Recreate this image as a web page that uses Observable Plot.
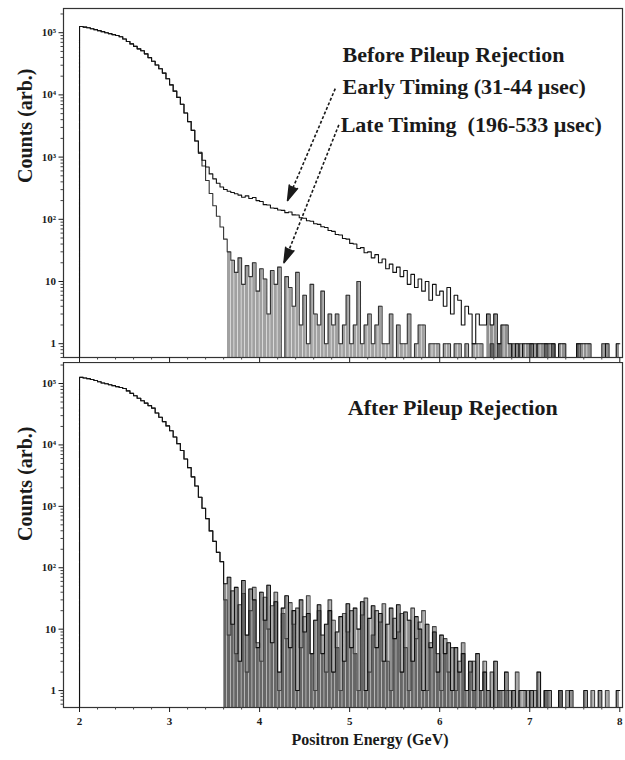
<!DOCTYPE html>
<html>
<head>
<meta charset="utf-8">
<script src="https://cdn.jsdelivr.net/npm/d3@7"></script>
<script src="https://cdn.jsdelivr.net/npm/@observablehq/plot@0.6"></script>
<style>
  body { margin: 0; background: #fff; }
  svg { display: block; }
</style>
</head>
<body>
<div id="chart"></div>
<script>
// ---- data (counts per 0.04 GeV bin, starting at 2.00 GeV) ----
const binStart = 2.0;
const binWidth = 0.04;

const topEarly = [
  126000,123000,120000,116000,112000,108000,104000,100000,96600,93300,
  90200,86100,79400,72400,66100,60300,55000,51300,45700,39800,
  34700,30200,26300,22400,18200,14500,11500,9120,7080,5130,
  3720,2690,1820,1200,891,692,537,447,380,331,
  302,282,269,257,245,226,238,216,224,200,
  193,172,170,152,150,141,139,128,131,118,
  117,106,104,95,93,85,83,76,74,66,
  64,57,56,49,48,41,40,34,35,29,
  30,24,27,20,23,16,19,14,17,12,
  15,9,13,8,11,7,10,5,9,6,
  7,4,8,3,6,5,2,4,3,1,
  3,2,2,3,2,3,1,2,2,1,
  0,1,0,1,1,1,0,1,1,1,
  1,1,0,1,1,0,0,0,1,1,
  1,1,0,0,0,0,1,0,0,1
];

const topLate = [
  126000,123000,120000,116000,112000,108000,104000,100000,96600,93300,
  90200,86100,79400,72400,66100,60300,55000,51300,45700,39800,
  34700,30200,26300,22400,18200,14500,11500,9120,7080,5130,
  3720,2690,1820,1150,720,420,260,165,112,75,
  48,30,22,14,24,9,18,12,20,7,
  16,11,3,15,9,17,0,12,8,4,
  14,2,6,1,9,3,2,7,1,3,
  2,3,1,2,6,1,2,10,1,2,
  3,1,2,4,1,1,3,0,2,1,
  1,3,0,1,2,2,0,1,1,1,
  0,1,1,0,1,1,0,1,0,1,
  1,1,0,0,1,0,1,0,0,0,
  1,0,1,0,0,1,1,0,0,1,
  0,1,0,0,0,0,0,0,1,0,
  0,0,0,0,0,1,0,0,0,0
];

const bottomEarly = [
  126000,123000,120000,116000,112000,107000,102000,98900,95500,92300,
  89100,86100,83200,75900,69200,63100,57500,52500,47900,43700,
  39800,33100,28200,24000,20400,17000,13500,10500,8130,5890,
  4270,3020,2140,1410,933,631,398,269,178,126,
  55,70,12,48,3,62,8,45,30,5,
  40,14,52,6,28,2,22,35,5,20,
  1,30,9,18,4,14,25,4,12,20,
  2,9,16,3,26,5,22,10,28,1,
  15,24,5,18,3,12,22,7,25,2,
  19,14,3,16,10,1,12,5,9,2,
  8,4,6,1,5,2,4,1,3,1,
  4,1,2,1,0,3,1,1,2,0,
  1,0,1,1,0,1,0,2,0,1,
  1,0,0,1,0,0,1,0,0,0,
  1,0,0,0,1,0,0,0,0,1
];

const bottomLate = [
  126000,123000,120000,116000,112000,107000,102000,98900,95500,92300,
  89100,86100,83200,75900,69200,63100,57500,52500,47900,43700,
  39800,33100,28200,24000,20400,17000,13500,10500,8130,5890,
  4270,3020,2140,1410,933,631,398,269,178,126,
  30,8,42,4,25,38,2,20,48,6,
  3,33,10,24,40,1,18,7,27,12,
  22,5,16,35,4,1,20,8,2,30,
  14,5,1,18,9,20,4,1,17,32,
  2,8,20,13,26,3,1,15,9,18,
  5,1,22,7,13,20,1,6,11,4,
  1,7,2,5,1,3,6,0,2,3,
  0,1,3,0,2,0,1,0,1,1,
  0,2,0,0,1,0,1,0,0,1,
  0,0,0,1,0,1,0,0,0,0,
  0,0,1,0,0,0,1,0,0,0
];

// energy (GeV) above which each spectrum breaks up into low-count noise
const noiseStart = {topEarly: 6.52, topLate: 3.62, bottomEarly: 3.58, bottomLate: 3.58};

const yTickValues = [1, 10, 100, 1000, 10000, 100000];
const yTickLabels = ["1", "10", "10²", "10³", "10⁴", "10⁵"];
const xTickValues = [2, 3, 4, 5, 6, 7, 8];

// annotations (data coordinates: energy in GeV, counts)
const topTexts = [
  {label: "Before Pileup Rejection", energy: 4.92, counts: 44300},
  {label: "Early Timing (31-44 µsec)", energy: 4.92, counts: 13600},
  {label: "Late Timing  (196-533 µsec)", energy: 4.90, counts: 3320}
];
const topArrows = [
  {e1: 4.84, c1: 12600, e2: 4.31, c2: 200, angle: 203},
  {e1: 4.88, c1: 3300, e2: 4.27, c2: 20, angle: 203}
];
const bottomTexts = [
  {label: "After Pileup Rejection", energy: 4.98, counts: 40700}
];

// ---- helpers ----
const serif = "'Liberation Serif', 'Times New Roman', serif";
const ink = "#1a1a1a";

function toSteps(counts, floor) {
  const pts = [{x: binStart, y: floor}];
  counts.forEach((c, i) => pts.push({x: binStart + i * binWidth, y: c > 0 ? c : floor}));
  const last = counts[counts.length - 1];
  pts.push({x: binStart + counts.length * binWidth, y: last > 0 ? last : floor});
  return pts;
}

function toColumns(counts, from) {
  return counts
    .map((c, i) => ({x1: binStart + i * binWidth, x2: binStart + (i + 1) * binWidth, c}))
    .filter(d => d.c > 0 && d.x1 >= from - 1e-9);
}

function minorTicks(lo, hi) {
  const t = [];
  for (let k = -1; k <= 6; k++) {
    for (let m = 2; m <= 9; m++) {
      const v = m * Math.pow(10, k);
      if (v >= lo && v <= hi) t.push(v);
    }
  }
  return t;
}

const xMinor = d3.range(20, 81, 2).map(v => v / 10).filter(v => !xTickValues.includes(v));
const xDomain = [1.822, 8.03];

function panel({series, floor, top, height, marginTop, marginBottom, texts, arrows, showXLabels, labelDy}) {
  const marks = [
    ...series.map(s => Plot.rectY(toColumns(s.counts, s.from), {
      x1: "x1", x2: "x2", y1: floor, y2: "c", fill: s.fill, fillOpacity: 0.5, insetLeft: 0.3, insetRight: 0.3
    })),
    ...series.map(s => Plot.line(toSteps(s.counts, floor), {
      x: "x", y: "y", curve: "step-after", stroke: s.color, strokeWidth: 1.1
    })),
    Plot.frame({stroke: "#333", strokeWidth: 1.2}),
    Plot.axisY(minorTicks(floor, top), {tickSize: 2.5, tickFormat: () => "", stroke: "#444"}),
    Plot.axisY(yTickValues, {
      tickSize: 4.5, tickPadding: 3,
      tickFormat: d => yTickLabels[yTickValues.indexOf(d)],
      fontSize: 11, fontWeight: "bold", fontFamily: serif, fill: ink
    }),
    Plot.axisX(xMinor, {tickSize: 2.5, tickFormat: () => "", stroke: "#444"}),
    Plot.axisX(xTickValues, {
      tickSize: 5, tickPadding: 5,
      tickFormat: showXLabels ? (d => String(d)) : (() => ""),
      fontSize: 11, fontWeight: "bold", fontFamily: serif, fill: ink
    }),
    Plot.text(texts, {
      x: "energy", y: "counts", text: "label", textAnchor: "start",
      fontSize: 22, fontWeight: "bold", fontFamily: serif, fill: ink
    }),
    Plot.text(["Counts (arb.)"], {
      frameAnchor: "left", rotate: -90, dx: -38, dy: labelDy,
      fontSize: 20, fontWeight: "bold", fontFamily: serif, fill: ink
    })
  ];
  if (arrows.length) {
    marks.push(Plot.link(arrows, {
      x1: "e1", y1: "c1", x2: "e2", y2: "c2",
      stroke: ink, strokeWidth: 1.6, strokeDasharray: "3,2"
    }));
    marks.push(Plot.vector(arrows, {
      x: "e2", y: "c2", rotate: "angle", length: 15, r: 4.5,
      shape: "spike", anchor: "end", fill: ink, stroke: ink
    }));
  }
  if (showXLabels) {
    marks.push(Plot.text(["Positron Energy (GeV)"], {
      frameAnchor: "bottom", dx: 27, dy: 37,
      fontSize: 16, fontWeight: "bold", fontFamily: serif, fill: ink
    }));
  }
  return Plot.plot({
    width: 625, height,
    marginLeft: 63, marginRight: 3, marginTop, marginBottom,
    style: {fontFamily: serif, background: "#fff", color: ink},
    x: {domain: xDomain, label: null},
    y: {type: "log", domain: [floor, top], label: null},
    marks
  });
}

const chart = document.getElementById("chart");
chart.appendChild(panel({
  series: [
    {counts: topLate, from: noiseStart.topLate, color: "#333", fill: "#444"},
    {counts: topEarly, from: noiseStart.topEarly, color: "#111", fill: "#222"}
  ],
  floor: 0.6, top: 2.45e5, height: 362, marginTop: 8, marginBottom: 5,
  texts: topTexts, arrows: topArrows, showXLabels: false, labelDy: 0
}));
chart.appendChild(panel({
  series: [
    {counts: bottomLate, from: noiseStart.bottomLate, color: "#444", fill: "#555"},
    {counts: bottomEarly, from: noiseStart.bottomEarly, color: "#111", fill: "#222"}
  ],
  floor: 0.53, top: 2.2e5, height: 398, marginTop: 0, marginBottom: 53,
  texts: bottomTexts, arrows: [], showXLabels: true, labelDy: 6
}));
</script>
</body>
</html>
